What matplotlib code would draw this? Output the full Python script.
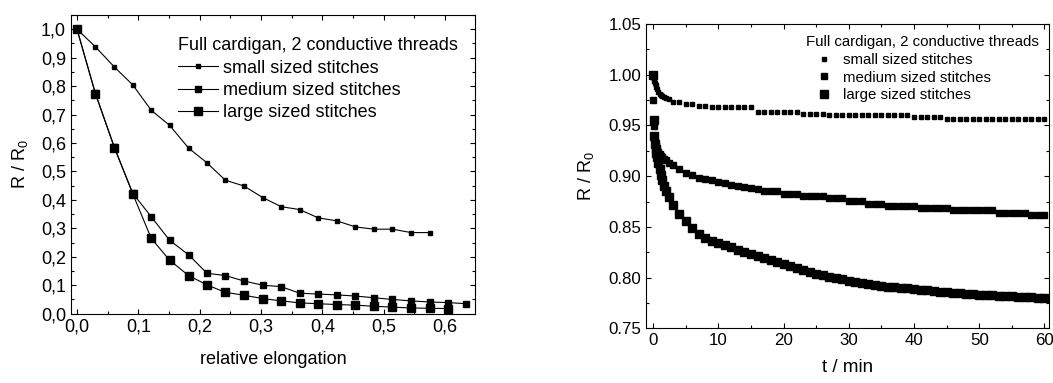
import matplotlib
matplotlib.use("Agg")
import matplotlib.pyplot as plt
from matplotlib.ticker import MultipleLocator, FuncFormatter

plt.rcParams['font.family'] = ['Liberation Sans', 'DejaVu Sans']
plt.rcParams['mathtext.fontset'] = 'custom'
plt.rcParams['mathtext.rm'] = 'Liberation Sans'

# ---- left panel: resistance vs relative elongation ----
elong = [0.0, 0.030, 0.061, 0.091, 0.121, 0.151, 0.182, 0.212, 0.242, 0.272, 0.303,
         0.333, 0.363, 0.393, 0.424, 0.454, 0.484, 0.514, 0.545, 0.575, 0.605, 0.635]

small_el = [1.0, 0.938, 0.867, 0.804, 0.715, 0.662, 0.582, 0.530, 0.469, 0.449,
            0.408, 0.376, 0.366, 0.337, 0.326, 0.305, 0.297, 0.297, 0.285, 0.285]
medium_el = [1.0, 0.775, 0.585, 0.423, 0.341, 0.258, 0.207, 0.142, 0.134, 0.115, 0.100,
             0.095, 0.072, 0.069, 0.066, 0.062, 0.056, 0.050, 0.045, 0.041, 0.039, 0.035]
large_el = [1.0, 0.773, 0.583, 0.421, 0.265, 0.188, 0.134, 0.101, 0.075, 0.065, 0.053,
            0.045, 0.038, 0.035, 0.032, 0.030, 0.026, 0.023, 0.020, 0.019, 0.018]

# ---- right panel: relaxation over time ----
t_min = [0, 0.1, 0.2, 0.3, 0.4, 0.5, 0.6, 0.8, 1.0, 1.2, 1.4, 1.7, 2.0, 2.5, 3,
         4, 5, 6, 7, 8, 9, 10, 11, 12, 13, 14, 15, 16, 17, 18, 19, 20,
         21, 22, 23, 24, 25, 26, 27, 28, 29, 30, 31, 32, 33, 34, 35, 36, 37, 38, 39, 40,
         41, 42, 43, 44, 45, 46, 47, 48, 49, 50, 51, 52, 53, 54, 55, 56, 57, 58, 59, 60]

small_t = [1.000, 0.996, 0.994, 0.992, 0.990, 0.988, 0.986, 0.983, 0.981, 0.980, 0.979,
           0.978, 0.977, 0.976, 0.973,
           0.973, 0.971, 0.971, 0.9695, 0.9695, 0.968, 0.968, 0.968, 0.968, 0.968, 0.968,
           0.968, 0.9635, 0.9635, 0.9635, 0.9635, 0.9635,
           0.9635, 0.9635, 0.9613, 0.9613, 0.9613, 0.9613, 0.960, 0.960, 0.960, 0.960,
           0.960, 0.960, 0.960, 0.960, 0.960, 0.960, 0.960, 0.960, 0.960, 0.9586,
           0.9586, 0.9586, 0.9586, 0.9586, 0.9563, 0.9563, 0.9563, 0.9563, 0.9563, 0.9563,
           0.9563, 0.9563, 0.9563, 0.9563, 0.9563, 0.9563, 0.9563, 0.9563, 0.9563, 0.9563]

medium_t = [0.975, 0.949, 0.940, 0.934, 0.930, 0.928, 0.926, 0.924, 0.922, 0.920, 0.919,
            0.917, 0.916, 0.913, 0.911,
            0.907, 0.903, 0.901, 0.898, 0.897, 0.896, 0.894, 0.893, 0.891, 0.890, 0.889,
            0.888, 0.887, 0.885, 0.885, 0.885, 0.882,
            0.882, 0.882, 0.880, 0.880, 0.880, 0.880, 0.878, 0.878, 0.878, 0.876,
            0.876, 0.876, 0.873, 0.873, 0.873, 0.871, 0.871, 0.871, 0.871, 0.871,
            0.869, 0.869, 0.869, 0.869, 0.869, 0.867, 0.867, 0.867, 0.867, 0.867,
            0.867, 0.867, 0.864, 0.864, 0.864, 0.864, 0.864, 0.862, 0.862, 0.862]

large_t = [1.000, 0.955, 0.940, 0.932, 0.927, 0.923, 0.919, 0.913, 0.907, 0.901, 0.896,
           0.890, 0.885, 0.879, 0.872,
           0.863, 0.856, 0.849, 0.843, 0.839, 0.836, 0.834, 0.832, 0.830, 0.827, 0.825,
           0.823, 0.821, 0.819, 0.817, 0.815, 0.813,
           0.811, 0.809, 0.807, 0.806, 0.804, 0.803, 0.801, 0.800, 0.799, 0.797,
           0.796, 0.795, 0.794, 0.793, 0.792, 0.791, 0.791, 0.790, 0.790, 0.789,
           0.788, 0.788, 0.787, 0.786, 0.786, 0.785, 0.785, 0.784, 0.784, 0.783,
           0.783, 0.783, 0.782, 0.782, 0.782, 0.781, 0.781, 0.781, 0.780, 0.780]

labels = ["small sized stitches", "medium sized stitches", "large sized stitches"]
legend_title = "Full cardigan, 2 conductive threads"

fig = plt.figure(figsize=(10.53, 3.83), dpi=100)
ax1 = fig.add_axes([0.0674, 0.181, 0.3837, 0.780])
ax2 = fig.add_axes([0.6135, 0.1428, 0.3827, 0.7945])


def style_axes(ax, fs):
    for sp in ax.spines.values():
        sp.set_linewidth(0.8)
    ax.tick_params(which='both', direction='in', top=True, right=True,
                   width=0.8, labelsize=fs, pad=3.5)
    ax.tick_params(which='major', length=3.8)
    ax.tick_params(which='minor', length=2.2)


# left
ax1.plot(elong[:len(small_el)], small_el, '-s', color='black', lw=0.8, ms=2.4, label=labels[0])
ax1.plot(elong[:len(medium_el)], medium_el, '-s', color='black', lw=0.8, ms=3.8, label=labels[1])
ax1.plot(elong[:len(large_el)], large_el, '-s', color='black', lw=0.8, ms=6.0, label=labels[2])
ax1.set_xlim(-0.0098, 0.649)
ax1.set_ylim(0, 1.05)
ax1.xaxis.set_major_locator(MultipleLocator(0.1))
ax1.xaxis.set_minor_locator(MultipleLocator(0.05))
ax1.yaxis.set_major_locator(MultipleLocator(0.1))
ax1.yaxis.set_minor_locator(MultipleLocator(0.05))
comma = FuncFormatter(lambda v, p: f"{v:.1f}".replace('.', ','))
ax1.xaxis.set_major_formatter(comma)
ax1.yaxis.set_major_formatter(comma)
style_axes(ax1, 13)
ax1.set_xlabel("relative elongation", fontsize=13, labelpad=11)
ax1.set_ylabel("R / R$_\\mathregular{0}$", fontsize=13, labelpad=8)
leg1 = ax1.legend(title=legend_title, loc='upper left', bbox_to_anchor=(0.169, 0.903),
                  bbox_transform=fig.transFigure, frameon=False, fontsize=13,
                  title_fontsize=13, borderpad=0, borderaxespad=0, handlelength=2.2,
                  handletextpad=0.3, labelspacing=0.3, numpoints=1, alignment='left')

# right
ax2.plot(t_min, small_t, 's', color='black', ms=2.4, ls='none', label=labels[0])
ax2.plot(t_min, medium_t, 's', color='black', ms=4.6, ls='none', label=labels[1])
ax2.plot(t_min, large_t, 's', color='black', ms=6.3, ls='none', label=labels[2])
ax2.set_xlim(-1.1, 60.7)
ax2.set_ylim(0.75, 1.05)
ax2.xaxis.set_major_locator(MultipleLocator(10))
ax2.xaxis.set_minor_locator(MultipleLocator(5))
ax2.yaxis.set_major_locator(MultipleLocator(0.05))
ax2.yaxis.set_minor_locator(MultipleLocator(0.025))
ax2.yaxis.set_major_formatter(FuncFormatter(lambda v, p: f"{v:.2f}"))
style_axes(ax2, 12.2)
ax2.set_xlabel("t / min", fontsize=13.5, labelpad=8)
ax2.set_ylabel("R / R$_\\mathregular{0}$", fontsize=13, labelpad=9)
leg2 = ax2.legend(title=legend_title, loc='upper left', bbox_to_anchor=(0.765, 0.908),
                  bbox_transform=fig.transFigure, frameon=False, fontsize=10.8,
                  title_fontsize=10.8, borderpad=0, borderaxespad=0, handlelength=2.4,
                  handletextpad=0.1, labelspacing=0.25, numpoints=1, alignment='left')

fig.savefig("out.png", dpi=100)
